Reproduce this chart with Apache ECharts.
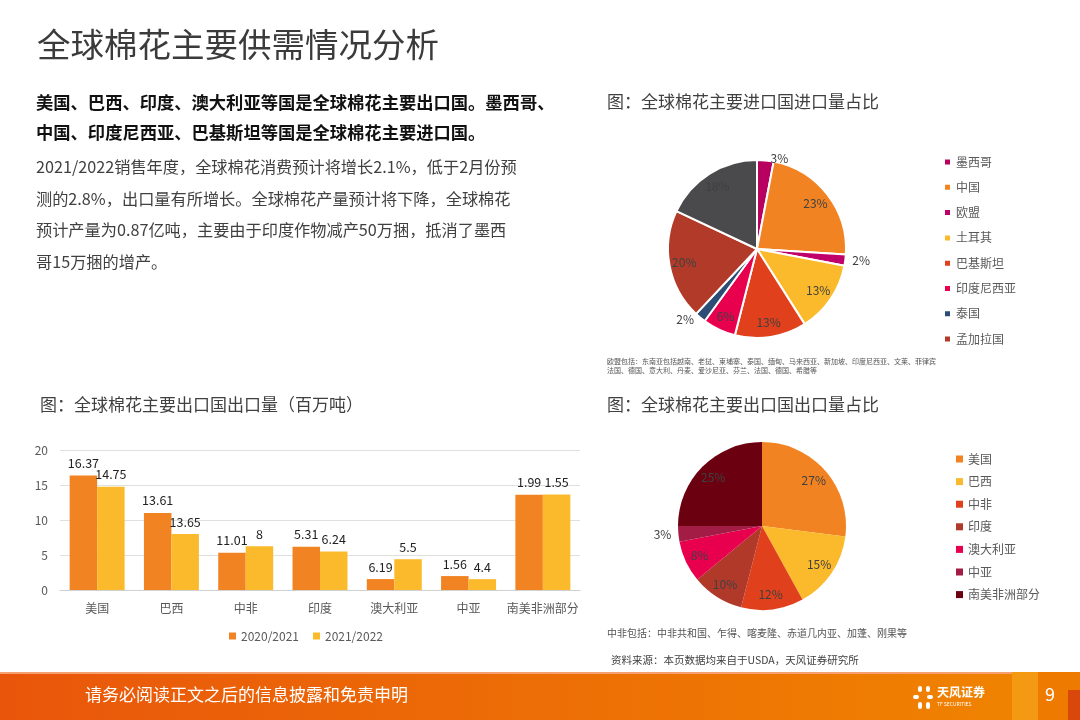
<!DOCTYPE html>
<html>
<head>
<meta charset="utf-8">
<script src="https://cdn.jsdelivr.net/npm/echarts@6/dist/echarts.min.js"></script>
<style>
html,body{margin:0;padding:0;background:#fff;}
#main{width:1080px;height:720px;}
</style>
</head>
<body>
<div id="main"></div>
<script>
// ---- Data ----
const barCategories = ['美国','巴西','中非','印度','澳大利亚','中亚','南美非洲部分'];
const exports2020 = [16.37, 11.01, 5.31, 6.19, 1.56, 1.99, 13.61];
const exports2021 = [14.75, 8, 6.24, 5.5, 4.4, 1.55, 13.65];
// labels as printed in the source chart (shifted relative to the bars)
const labels2020 = ['16.37','13.61','11.01','5.31','6.19','1.56','1.99'];
const labels2021 = ['14.75','13.65','8','6.24','5.5','4.4','1.55'];
const yTicks = [0, 5, 10, 15, 20];

const importNames = ['墨西哥','中国','欧盟','土耳其','巴基斯坦','印度尼西亚','泰国','孟加拉国','其他'];
const importShares = [3, 23, 2, 13, 13, 6, 2, 20, 18];
const importLegend = ['墨西哥','中国','欧盟','土耳其','巴基斯坦','印度尼西亚','泰国','孟加拉国'];

const exportNames = ['美国','巴西','中非','印度','澳大利亚','中亚','南美非洲部分'];
const exportShares = [27, 15, 12, 10, 8, 3, 25];

// ---- Styles ----
const FONT = '"Noto Sans CJK SC", "Noto Sans", sans-serif';
const importColors = ['#B8005E','#F28322','#C0006A','#FBBA2C','#E0401C','#E8004F','#2C4D75','#B23A28','#4A4A4D'];
const exportColors = ['#F28322','#FBBA2C','#E0401C','#B0392A','#E8004F','#A31C45','#6B0010'];

function pieData(names, vals, colors, smallMax, border) {
  return names.map((n, i) => {
    const small = vals[i] <= smallMax;
    return {
      name: n, value: vals[i],
      itemStyle: {color: colors[i], borderColor: '#fff', borderWidth: border},
      label: small ? {show: true, position: 'outside'} : {show: false},
      labelLine: {show: false, length: 2, length2: 0}
    };
  });
}
function pieOverlay(names, vals, smallMax) {
  return names.map((n, i) => ({
    name: n, value: vals[i],
    itemStyle: {color: 'rgba(0,0,0,0)'},
    label: {show: vals[i] > smallMax}
  }));
}

const chart = echarts.init(document.getElementById('main'), null, {renderer: 'canvas'});

const bodyLines = [
  '2021/2022销售年度，全球棉花消费预计将增长2.1%，低于2月份预',
  '测的2.8%，出口量有所增长。全球棉花产量预计将下降，全球棉花',
  '预计产量为0.87亿吨，主要由于印度作物减产50万捆，抵消了墨西',
  '哥15万捆的增产。'
];
const boldLines = [
  '美国、巴西、印度、澳大利亚等国是全球棉花主要出口国。墨西哥、',
  '中国、印度尼西亚、巴基斯坦等国是全球棉花主要进口国。'
];

const graphics = [];
function txt(x, y, s, size, color, weight) {
  graphics.push({
    type: 'text', left: x, top: y,
    style: {text: s, fill: color, font: (weight || 'normal') + ' ' + size + 'px ' + FONT}
  });
}
txt(37, 28, '全球棉花主要供需情况分析', 33.5, '#3b3b3b');
boldLines.forEach((l, i) => txt(36, 94 + i * 29.5, l, 17.3, '#111', 'bold'));
bodyLines.forEach((l, i) => txt(36, 159 + i * 31.5, l, 16.2, '#404040'));
txt(607, 93, '图：全球棉花主要进口国进口量占比', 17, '#404040');
txt(40, 396, '图：全球棉花主要出口国出口量（百万吨）', 17, '#404040');
txt(607, 396, '图：全球棉花主要出口国出口量占比', 17, '#404040');
txt(607, 358, '欧盟包括：东南亚包括越南、老挝、柬埔寨、泰国、缅甸、马来西亚、新加坡、印度尼西亚、文莱、菲律宾', 7, '#555');
txt(607, 367, '法国、德国、意大利、丹麦、爱沙尼亚、芬兰、法国、德国、希腊等', 7, '#555');
txt(607, 628, '中非包括：中非共和国、乍得、喀麦隆、赤道几内亚、加蓬、刚果等', 10, '#555');
txt(611, 655, '资料来源：本页数据均来自于USDA，天风证券研究所', 10.5, '#404040');

// footer
graphics.push({type: 'rect', left: 0, top: 672, shape: {width: 1080, height: 48},
  style: {fill: new echarts.graphic.LinearGradient(0, 0, 1, 0, [
    {offset: 0, color: '#E9560B'}, {offset: 1, color: '#F08500'}])}});
graphics.push({type: 'rect', left: 0, top: 672, shape: {width: 1080, height: 2}, style: {fill: '#F4A070'}});
graphics.push({type: 'rect', left: 1012, top: 672, shape: {width: 26, height: 48}, style: {fill: '#F39A12'}});
graphics.push({type: 'rect', left: 1038, top: 672, shape: {width: 42, height: 48}, style: {fill: '#EE7A00'}});
graphics.push({type: 'rect', left: 1068, top: 690, shape: {width: 12, height: 30}, style: {fill: '#D9480A'}});
txt(85, 686, '请务必阅读正文之后的信息披露和免责申明', 17, '#fff');
txt(937, 686, '天风证券', 12, '#fff', 'bold');
txt(937, 702, 'TF SECURITIES', 5, '#fff');
txt(1045, 685, '9', 18, '#fff');
// small logo marks
[[918,686,4,6],[926,686,4,6],[913,695,6,4],[927,695,6,4],[918,702,4,7],[926,702,4,7]].forEach(r => {
  graphics.push({type: 'rect', left: r[0], top: r[1], shape: {width: r[2], height: r[3], r: 2}, style: {fill: '#fff'}});
});

const pieLabel = {color: '#404040', fontSize: 12, fontFamily: FONT, formatter: '{c}%'};

const option = {
  animation: false,
  backgroundColor: '#fff',
  textStyle: {fontFamily: FONT},
  graphic: graphics,
  legend: [
    {
      data: ['2020/2021', '2021/2022'], left: 224, top: 625, itemWidth: 7, itemHeight: 7,
      icon: 'rect', itemGap: 14, textStyle: {fontSize: 12, color: '#595959'}, selectedMode: false
    },
    {
      data: importLegend, orient: 'vertical', left: 938, top: 151, itemWidth: 7, itemHeight: 7,
      icon: 'rect', itemGap: 13.3, textStyle: {fontSize: 12, color: '#595959'}, selectedMode: false
    },
    {
      data: exportNames, orient: 'vertical', left: 951, top: 448, itemWidth: 7, itemHeight: 7,
      icon: 'rect', itemGap: 10.6, textStyle: {fontSize: 12, color: '#595959'}, selectedMode: false
    }
  ],
  grid: {left: 60, right: 500, top: 450, bottom: 130, containLabel: false},
  xAxis: {
    type: 'category', data: barCategories,
    axisLine: {lineStyle: {color: '#d0d0d0'}}, axisTick: {show: false},
    axisLabel: {color: '#595959', fontSize: 12, margin: 12, interval: 0}
  },
  yAxis: {
    type: 'value', min: yTicks[0], max: yTicks[yTicks.length - 1], interval: 5,
    axisLine: {show: false}, axisTick: {show: false},
    axisLabel: {color: '#595959', fontSize: 12, margin: 12},
    splitLine: {lineStyle: {color: '#e0e0e0'}}
  },
  series: [
    {
      name: '2020/2021', type: 'bar', data: exports2020, barGap: '0%', barCategoryGap: '26%',
      itemStyle: {color: '#F28322'},
      label: {show: true, position: 'top', color: '#222', fontSize: 12.5, distance: 6,
        formatter: p => labels2020[p.dataIndex]}
    },
    {
      name: '2021/2022', type: 'bar', data: exports2021,
      itemStyle: {color: '#FBBA2C'},
      label: {show: true, position: 'top', color: '#222', fontSize: 12.5, distance: 6,
        formatter: p => labels2021[p.dataIndex]}
    },
    {
      name: 'imports', type: 'pie', center: [757, 249], radius: 89, startAngle: 90, clockwise: true,
      data: pieData(importNames, importShares, importColors, 3, 2),
      label: pieLabel, avoidLabelOverlap: false, silent: true
    },
    {
      name: 'importsLabels', type: 'pie', center: [757, 249], radius: [44, 98], startAngle: 90, clockwise: true,
      data: pieOverlay(importNames, importShares, 3),
      label: Object.assign({position: 'inside'}, pieLabel), labelLine: {show: false},
      avoidLabelOverlap: false, silent: true
    },
    {
      name: 'exports', type: 'pie', center: [762, 526], radius: 84, startAngle: 90, clockwise: true,
      data: pieData(exportNames, exportShares, exportColors, 3, 0),
      label: pieLabel, avoidLabelOverlap: false, silent: true
    },
    {
      name: 'exportsLabels', type: 'pie', center: [762, 526], radius: [40, 92], startAngle: 90, clockwise: true,
      data: pieOverlay(exportNames, exportShares, 3),
      label: Object.assign({position: 'inside'}, pieLabel), labelLine: {show: false},
      avoidLabelOverlap: false, silent: true
    }
  ]
};
chart.setOption(option);
</script>
</body>
</html>
